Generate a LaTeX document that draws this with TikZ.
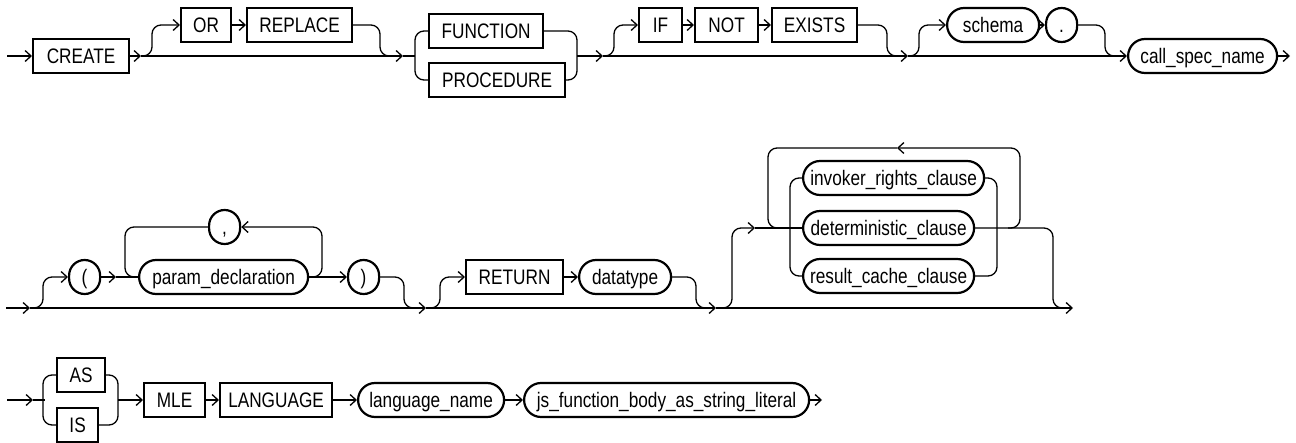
\documentclass[tikz,border=0pt]{standalone}
\usepackage{fontspec}
\setmainfont{Liberation Sans}[FakeStretch=0.82]
\usetikzlibrary{arrows.meta}
\begin{document}
\begin{tikzpicture}[x=1pt,y=-1pt,
  font=\fontsize{21}{24}\selectfont,
  line width=1.3pt,
  box/.style={draw,line width=2.2pt,minimum height=34pt,inner xsep=3pt,inner ysep=0pt,
              text height=15pt,text depth=0pt,anchor=west},
  kw/.style={box},
  nt/.style={box,rounded corners=17pt},
  ch/.style={box,rounded corners=15.5pt,minimum width=31pt,inner xsep=0pt},
  mw/.style={minimum width=#1},
  arr/.style={-{Straight Barb[length=6pt,width=11pt]}},
  rc/.style={rounded corners=9pt},
]
\useasboundingbox (0,0) rectangle (1296,442);

% ---------- row 1 ----------
\node[kw,mw=96] (create) at (32,56) {CREATE};
\node[kw,mw=50] (or) at (180,25) {OR};
\node[kw,mw=105] (replace) at (246,25) {REPLACE};
\node[kw,mw=114] (function) at (428,31) {FUNCTION};
\node[kw,mw=136] (procedure) at (428,80) {PROCEDURE};
\node[kw,mw=43] (if) at (638,25) {IF};
\node[kw,mw=63] (not) at (694,25) {NOT};
\node[kw,mw=85] (exists) at (771,25) {EXISTS};
\node[nt,mw=92] (schema) at (946,25) {schema};
\node[ch] (dot) at (1045,25) {.};
\node[nt,mw=149] (callspec) at (1127,56) {call\_spec\_name};

\coordinate (s1) at (7,56);
\coordinate (j1) at (141,56);
\coordinate (j2) at (403,56);
\coordinate (fpin) at (415,56);
\coordinate (fpout) at (577,56);
\coordinate (j3) at (603,56);
\coordinate (j4) at (908,56);
\coordinate (e1) at (1290,56);

\draw[arr] (s1) -- (create);
\draw[arr] (create.east) -- (j1);
\draw[arr] (j1) -- (j2);
\draw[rc,arr] (j1) -- (152,56) -- (152,25) -- (or.west);
\draw[arr] (or) -- (replace);
\draw[rc] (replace.east) -- (380,25) -- (380,56) -- (392,56);
\draw (j2) -- (fpin);
\draw[rc] (function.west) -- (415,31) -- (415,80) -- (procedure.west);
\draw[rc] (function.east) -- (577,31) -- (577,80) -- (procedure.east);
\draw[arr] (fpout) -- (j3);
\draw[rc,arr] (j3) -- (614,56) -- (614,25) -- (if.west);
\draw[arr] (if) -- (not);
\draw[arr] (not) -- (exists);
\draw[rc] (exists.east) -- (887,25) -- (887,56) -- (897,56);
\draw[arr] (j3) -- (j4);
\draw[rc,arr] (j4) -- (919,56) -- (919,25) -- (schema.west);
\draw[arr] (schema) -- (dot);
\draw[rc] (dot.east) -- (1105,25) -- (1105,56) -- (1117,56);
\draw[arr] (j4) -- (callspec);
\draw[arr] (callspec) -- (e1);

% ---------- row 2 ----------
\node[ch] (lpar) at (68,277) {(};
\node[nt,mw=169] (param) at (138,277) {param\_declaration};
\node[ch] (comma) at (208,227) {,};
\node[ch] (rpar) at (347,277) {)};
\node[kw,mw=97] (return) at (465,277) {RETURN};
\node[nt,mw=92] (datatype) at (578,277) {datatype};
\node[nt,mw=181] (invoker) at (802,178) {invoker\_rights\_clause};
\node[nt,mw=171] (determ) at (802,228) {deterministic\_clause};
\node[nt,mw=171] (result) at (802,276) {result\_cache\_clause};

\coordinate (s2) at (6,308);
\coordinate (b1) at (30,308);
\coordinate (b2) at (426,308);
\coordinate (b3) at (716,308);
\coordinate (e2) at (1073,308);
\coordinate (pa) at (116,277);
\coordinate (g3) at (755,228);
\coordinate (lr) at (1008,228);
\coordinate (lt) at (897,148);

\draw[arr] (s2) -- (b1);
\draw[arr] (b1) -- (b2);
\draw[arr] (b2) -- (b3);
\draw[arr] (b3) -- (e2);
\draw[rc,arr] (b1) -- (43,308) -- (43,277) -- (lpar.west);
\draw[arr] (lpar) -- (pa);
\draw (pa) -- (param.west);
\draw[rc] (comma.west) -- (125,227) -- (125,277) -- (param.west);
\draw[rc,arr] (param.east) -- (322,277) -- (322,227) -- (comma.east);
\draw[arr] (param.east) -- (rpar.west);
\draw[rc] (rpar.east) -- (404,277) -- (404,308) -- (414,308);
\draw[rc,arr] (b2) -- (440,308) -- (440,277) -- (return.west);
\draw[arr] (return) -- (datatype);
\draw[rc] (datatype.east) -- (696,277) -- (696,308) -- (706,308);
\draw[rc,arr] (b3) -- (732,308) -- (732,228) -- (g3);
\draw (g3) -- (determ.west);
\draw[rc] (invoker.west) -- (790,178) -- (790,276) -- (result.west);
\draw[rc] (invoker.east) -- (997,178) -- (997,276) -- (result.east);
\draw[rc,arr] (lr) -- (1020,228) -- (1020,148) -- (lt);
\draw[rc] (lt) -- (768,148) -- (768,228) -- (780,228);
\draw[rc] (determ.east) -- (1053,228) -- (1053,308) -- (1063,308);

% ---------- row 3 ----------
\node[kw,mw=48] (as) at (56,375) {AS};
\node[kw,mw=41] (is) at (56,425) {IS};
\node[kw,mw=61] (mle) at (143,400) {MLE};
\node[kw,mw=112] (language) at (219,400) {LANGUAGE};
\node[nt,mw=146] (langname) at (357,400) {language\_name};
\node[nt,mw=285] (js) at (523,400) {js\_function\_body\_as\_string\_literal};

\coordinate (s3) at (7,400);
\coordinate (c1) at (33,400);
\coordinate (c1b) at (45,400);
\coordinate (c2) at (118,400);
\coordinate (e3) at (822,400);

\draw[arr] (s3) -- (c1);
\draw (c1) -- (c1b);
\draw[rc] (as.west) -- (43,375) -- (43,425) -- (is.west);
\draw[rc] (as.east) -- (118,375) -- (118,425) -- (is.east);
\draw[arr] (c2) -- (mle);
\draw[arr] (mle) -- (language);
\draw[arr] (language) -- (langname);
\draw[arr] (langname) -- (js);
\draw[arr] (js) -- (e3);
\end{tikzpicture}
\end{document}
